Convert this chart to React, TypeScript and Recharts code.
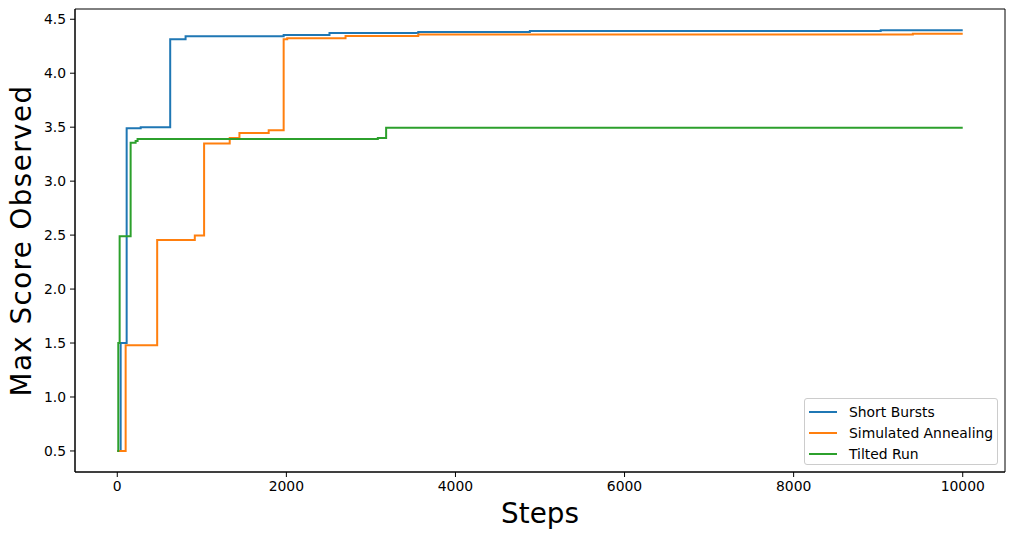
import { Line, LineChart, ReferenceArea, XAxis, YAxis, Label } from "recharts";

// step positions and max scores (stepAfter)
const SB_STEPS = [0, 40, 111, 277, 626, 808, 1968, 2510, 3560, 4880, 9030, 10000];
const SB_SCORES = [0.5, 1.5, 3.49, 3.5, 4.315, 4.343, 4.355, 4.373, 4.382, 4.392, 4.398, 4.398];

const SA_STEPS = [0, 99, 472, 917, 1027, 1330, 1445, 1791, 1968, 2010, 2700, 3560, 9410, 10000];
const SA_SCORES = [0.5, 1.48, 2.455, 2.497, 3.349, 3.4, 3.447, 3.472, 4.315, 4.324, 4.345, 4.358, 4.365, 4.365];

const TR_STEPS = [0, 12, 28, 158, 217, 240, 3082, 3180, 10000];
const TR_SCORES = [0.5, 1.5, 2.49, 3.355, 3.373, 3.39, 3.4, 3.494, 3.494];

const X_TICKS = [0, 2000, 4000, 6000, 8000, 10000];
const Y_TICKS = [0.5, 1.0, 1.5, 2.0, 2.5, 3.0, 3.5, 4.0, 4.5];

const SERIES = [
  { name: "Short Bursts", steps: SB_STEPS, scores: SB_SCORES, color: "#1f77b4" },
  { name: "Simulated Annealing", steps: SA_STEPS, scores: SA_SCORES, color: "#ff7f0e" },
  { name: "Tilted Run", steps: TR_STEPS, scores: TR_SCORES, color: "#2ca02c" },
];

const FONT = "'DejaVu Sans', sans-serif";

function toPoints(steps: number[], scores: number[]) {
  return steps.map((step, i) => ({ step, score: scores[i] }));
}

export default function App() {
  return (
    <div style={{ position: "absolute", left: 0, top: 0, width: 1015, height: 539, background: "#fff", fontFamily: FONT }}>
      <LineChart width={1015} height={539} margin={{ top: 9, right: 10, bottom: 0, left: 0 }}>
        <ReferenceArea x1={-500} x2={10500} y1={0.305} y2={4.595} fill="none" stroke="#000" strokeWidth={1} />
        <XAxis
          type="number"
          dataKey="step"
          domain={[-500, 10500]}
          ticks={X_TICKS}
          allowDataOverflow
          height={67}
          tickSize={5}
          tickMargin={4}
          stroke="#000"
          tick={{ fill: "#000", fontSize: 13.9, fontFamily: FONT }}
        >
          <Label value="Steps" position="insideBottom" offset={16} style={{ fontSize: 27.8, fontFamily: FONT, fill: "#000" }} />
        </XAxis>
        <YAxis
          type="number"
          dataKey="score"
          domain={[0.305, 4.595]}
          ticks={Y_TICKS}
          allowDataOverflow
          width={75}
          tickSize={5}
          tickMargin={4}
          stroke="#000"
          tickFormatter={(v: number) => v.toFixed(1)}
          tick={{ fill: "#000", fontSize: 13.9, fontFamily: FONT }}
        >
          <Label
            value="Max Score Observed"
            angle={-90}
            position="insideLeft"
            offset={21}
            style={{ fontSize: 27.8, fontFamily: FONT, fill: "#000", textAnchor: "middle", letterSpacing: 1.4 }}
          />
        </YAxis>
        {SERIES.map((s) => (
          <Line
            key={s.name}
            data={toPoints(s.steps, s.scores)}
            dataKey="score"
            name={s.name}
            type="stepAfter"
            stroke={s.color}
            strokeWidth={2}
            dot={false}
            activeDot={false}
            isAnimationActive={false}
          />
        ))}
      </LineChart>
      <div
        style={{
          position: "absolute",
          left: 804,
          top: 398,
          width: 192,
          height: 65,
          border: "1px solid #cccccc",
          borderRadius: 3,
          background: "rgba(255,255,255,0.8)",
          fontSize: 13.9,
          color: "#000",
        }}
      >
        {SERIES.map((s, i) => (
          <div key={s.name} style={{ position: "absolute", left: 0, top: 2 + i * 21, height: 21, display: "flex", alignItems: "center" }}>
            <div style={{ marginLeft: 4, width: 28, height: 2, background: s.color }} />
            <span style={{ marginLeft: 12, whiteSpace: "nowrap" }}>{s.name}</span>
          </div>
        ))}
      </div>
    </div>
  );
}
